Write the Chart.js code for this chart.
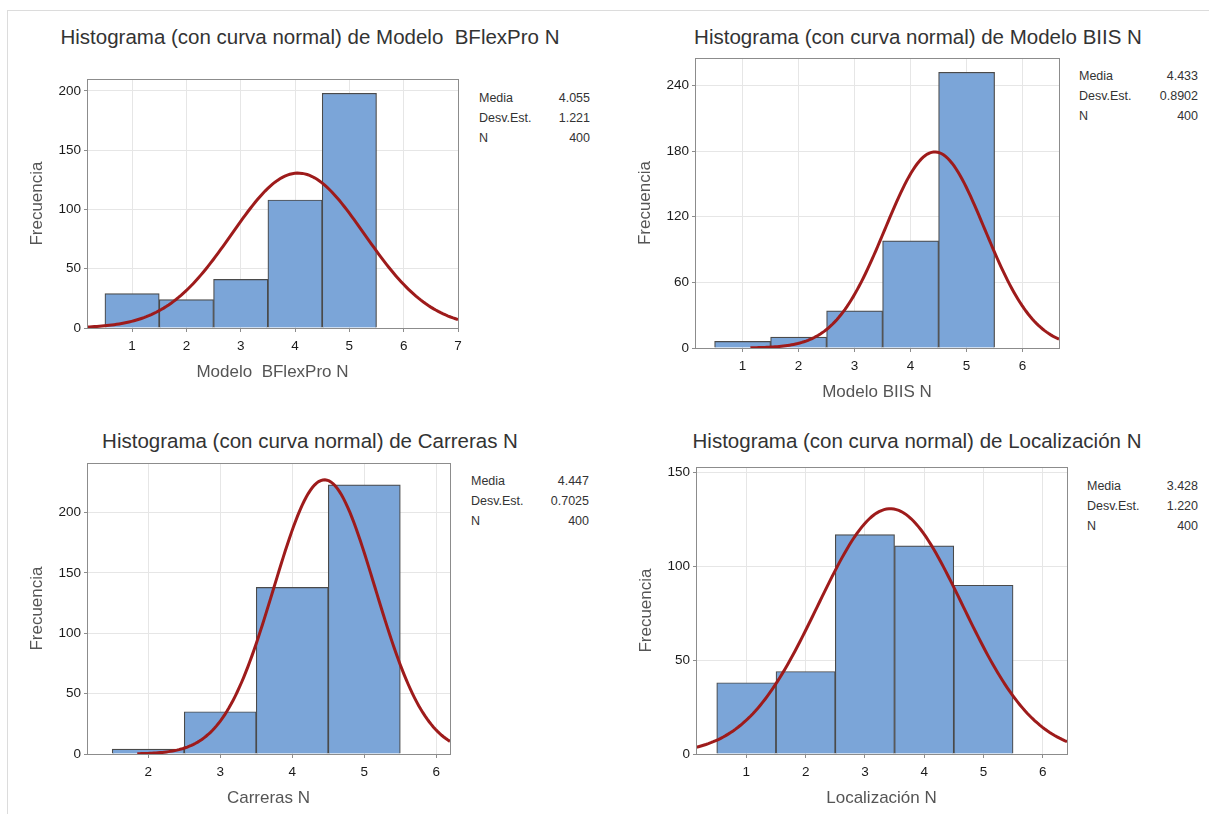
<!DOCTYPE html>
<html>
<head>
<meta charset="utf-8">
<script src="https://cdn.jsdelivr.net/npm/chart.js@4.4.1/dist/chart.umd.min.js"></script>
<style>
  body { margin: 0; background: #fff; font-family: "Liberation Sans", Arial, sans-serif; }
  #frame { position: absolute; left: 7px; top: 10px; width: 1202px; height: 804px;
           border-top: 1px solid #dcdcdc; border-left: 1px solid #dcdcdc; }
  .panel { position: absolute; }
  .title { position: absolute; font-size: 20.5px; color: #333; white-space: pre; transform: translateX(-50%); }
  .stats { position: absolute; font-size: 12.5px; color: #333; line-height: 20px; }
  .stats td { padding: 0; }
  .stats td.v { text-align: right; }
</style>
</head>
<body>
<div id="frame"></div>
<div id="root"></div>
<script>
// --- data ---
const binsBFlex = [1, 2, 3, 4, 5];
const freqBFlex = [29, 24, 41, 108, 198];
const statsBFlex = ["4.055", "1.221", "400"];

const binsBIIS = [1, 2, 3, 4, 5];
const freqBIIS = [6, 10, 34, 98, 252];
const statsBIIS = ["4.433", "0.8902", "400"];

const binsCarreras = [2, 3, 4, 5];
const freqCarreras = [4, 35, 138, 223];
const statsCarreras = ["4.447", "0.7025", "400"];

const binsLocal = [1, 2, 3, 4, 5];
const freqLocal = [38, 44, 117, 111, 90];
const statsLocal = ["3.428", "1.220", "400"];

const statLabels = ["Media", "Desv.Est.", "N"];

const panels = [
  { title: "Histograma (con curva normal) de Modelo  BFlexPro N", xTitle: "Modelo  BFlexPro N",
    bins: binsBFlex, freq: freqBFlex, stats: statsBFlex,
    xMin: 0.17, xMax: 7.0, yMax: 210, yStep: 50,
    plot: { l: 87, r: 458, t: 78, b: 328 }, titleAt: [310, 25], statsAt: [479, 88, 111] },
  { title: "Histograma (con curva normal) de Modelo BIIS N", xTitle: "Modelo BIIS N",
    bins: binsBIIS, freq: freqBIIS, stats: statsBIIS,
    xMin: 0.15, xMax: 6.65, yMax: 265, yStep: 60,
    plot: { l: 695, r: 1059, t: 57, b: 348 }, titleAt: [918, 25], statsAt: [1079, 66, 119] },
  { title: "Histograma (con curva normal) de Carreras N", xTitle: "Carreras N",
    bins: binsCarreras, freq: freqCarreras, stats: statsCarreras,
    xMin: 1.15, xMax: 6.19, yMax: 241, yStep: 50,
    plot: { l: 87, r: 450, t: 462, b: 754 }, titleAt: [310, 429], statsAt: [471, 471, 118] },
  { title: "Histograma (con curva normal) de Localización N", xTitle: "Localización N",
    bins: binsLocal, freq: freqLocal, stats: statsLocal,
    xMin: 0.15, xMax: 6.41, yMax: 153, yStep: 50,
    plot: { l: 696, r: 1067, t: 466, b: 754 }, titleAt: [917, 429], statsAt: [1087, 476, 111] }
];

// fitted normal curve from the printed mean / std dev / N (bin width 1)
function normalCurve(p) {
  const mean = Number(p.stats[0]), sd = Number(p.stats[1]), n = Number(p.stats[2]);
  const start = Math.max(p.xMin, mean - 3.7 * sd);
  const pts = [];
  for (let i = 0; i <= 150; i++) {
    const x = start + (p.xMax - start) * i / 150;
    const z = (x - mean) / sd;
    pts.push({ x, y: n * Math.exp(-0.5 * z * z) / (sd * Math.sqrt(2 * Math.PI)) });
  }
  return pts;
}

const frameBox = {
  id: "frameBox",
  afterDraw(chart) {
    const { ctx, chartArea: a } = chart;
    ctx.save();
    ctx.strokeStyle = "#8c8c8c";
    ctx.lineWidth = 1;
    ctx.strokeRect(Math.round(a.left) + 0.5, Math.round(a.top) + 0.5,
                   Math.round(a.right - a.left), Math.round(a.bottom - a.top));
    ctx.restore();
  }
};

const root = document.getElementById("root");

panels.forEach((p) => {
  const pad = 10;
  const canvasL = p.plot.l - 60, canvasT = p.plot.t - pad;
  const canvasR = p.plot.r + pad, canvasB = p.plot.b + 55;

  const t = document.createElement("div");
  t.className = "title";
  t.style.left = p.titleAt[0] + "px";
  t.style.top = p.titleAt[1] + "px";
  t.textContent = p.title;
  root.appendChild(t);

  const s = document.createElement("table");
  s.className = "stats";
  s.style.left = p.statsAt[0] + "px";
  s.style.top = p.statsAt[1] + "px";
  s.style.width = p.statsAt[2] + "px";
  s.style.borderCollapse = "collapse";
  s.innerHTML = statLabels.map((lab, k) => `<tr><td>${lab}</td><td class="v">${p.stats[k]}</td></tr>`).join("");
  root.appendChild(s);

  const wrap = document.createElement("div");
  wrap.className = "panel";
  wrap.style.left = canvasL + "px";
  wrap.style.top = canvasT + "px";
  wrap.style.width = (canvasR - canvasL) + "px";
  wrap.style.height = (canvasB - canvasT) + "px";
  const cv = document.createElement("canvas");
  wrap.appendChild(cv);
  root.appendChild(wrap);

  new Chart(cv, {
    type: "bar",
    data: {
      datasets: [
        {
          type: "line", data: normalCurve(p), borderColor: "#9e1b1b", borderWidth: 3,
          pointRadius: 0, tension: 0, order: 0
        },
        {
          data: p.bins.map((b, k) => ({ x: b, y: p.freq[k] })),
          backgroundColor: "#7ba5d8", borderColor: "#4a4a4a", borderWidth: 1.2,
          barPercentage: 1, categoryPercentage: 1, grouped: false, order: 1
        }
      ]
    },
    options: {
      responsive: true, maintainAspectRatio: false, animation: false,
      layout: { padding: { top: pad, right: pad, left: 0, bottom: 0 } },
      plugins: { legend: { display: false }, tooltip: { enabled: false } },
      scales: {
        x: {
          type: "linear", min: p.xMin, max: p.xMax, offset: false,
          ticks: { stepSize: 1, includeBounds: false, color: "#1a1a1a", padding: 6,
                   font: { family: "Liberation Sans", size: 13.5 } },
          grid: { color: "#e6e6e6", tickLength: 4, tickColor: "#8c8c8c", offset: false },
          border: { display: false },
          title: { display: true, text: p.xTitle, color: "#555", padding: 0,
                   font: { family: "Liberation Sans", size: 17 } },
          afterFit: (sc) => { sc.height = canvasB - p.plot.b; }
        },
        y: {
          min: 0, max: p.yMax,
          ticks: { stepSize: p.yStep, includeBounds: false, color: "#1a1a1a", padding: 3,
                   font: { family: "Liberation Sans", size: 13.5 } },
          grid: { color: "#e6e6e6", tickLength: 3, tickColor: "#8c8c8c" },
          border: { display: false },
          title: { display: true, text: "Frecuencia", color: "#555", padding: 0,
                   font: { family: "Liberation Sans", size: 17 } },
          afterFit: (sc) => { sc.width = p.plot.l - canvasL; }
        }
      }
    },
    plugins: [frameBox]
  });
});
</script>
</body>
</html>
